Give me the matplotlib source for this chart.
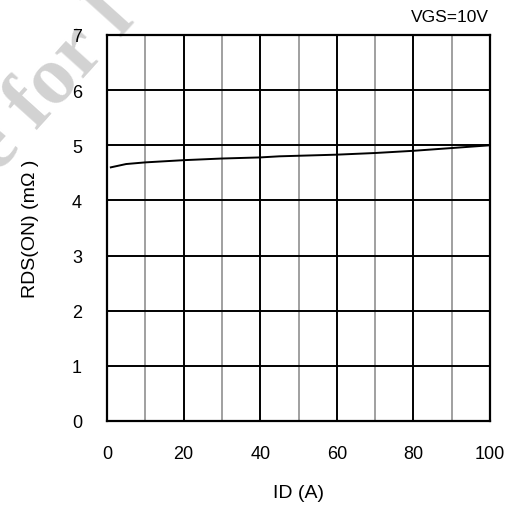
import matplotlib
matplotlib.use("Agg")
import matplotlib.pyplot as plt
import numpy as np

plt.rcParams['font.family'] = ['Liberation Sans', 'DejaVu Sans']

# Drain current (A) and on-resistance (mOhm) at VGS = 10 V
id_a = [1, 5, 10, 20, 30, 40, 45, 50, 60, 70, 80, 90, 100]
rds_on = [4.60, 4.66, 4.69, 4.73, 4.76, 4.78, 4.80, 4.81, 4.83, 4.86, 4.90, 4.95, 5.00]

x_ticks = [0, 20, 40, 60, 80, 100]
x_minor = [10, 30, 50, 70, 90]
y_ticks = [0, 1, 2, 3, 4, 5, 6, 7]

W, H = 512, 506
fig = plt.figure(figsize=(W / 100, H / 100), dpi=100)

# light diagonal watermark behind everything
fig.text(52 / W, 1 - 84 / H, 'e for l', fontsize=60, fontweight='bold',
         family='Liberation Serif', color='#d2d2d2', rotation=48,
         ha='center', va='center', zorder=-5)

ax = fig.add_axes([107 / W, 1 - 422 / H, 383 / W, 386 / H])
ax.patch.set_alpha(0)

ax.set_xlim(0, 100)
ax.set_ylim(0, 7)
ax.set_xticks(x_ticks)
ax.set_yticks(y_ticks)
ax.set_xticks(x_minor, minor=True)
ax.tick_params(which='both', length=0, labelsize=13)
ax.tick_params(axis='x', pad=17)
ax.tick_params(axis='y', pad=18)

ax.grid(True, which='major', axis='both', color='black', linewidth=1.4)
ax.grid(True, which='minor', axis='x', color='#909090', linewidth=1.2)
ax.set_axisbelow(True)
for s in ax.spines.values():
    s.set_linewidth(1.6)
    s.set_color('black')

ax.plot(id_a, rds_on, color='black', linewidth=1.4, zorder=3)

ax.set_xlabel('ID (A)', fontsize=14, labelpad=16)
ax.set_ylabel('RDS(ON) (m\u03a9 )', fontsize=14, labelpad=24)
fig.text(489 / W, 1 - 18 / H, 'VGS=10V', ha='right', va='center', fontsize=12.5)

fig.savefig('out.png', dpi=100)
